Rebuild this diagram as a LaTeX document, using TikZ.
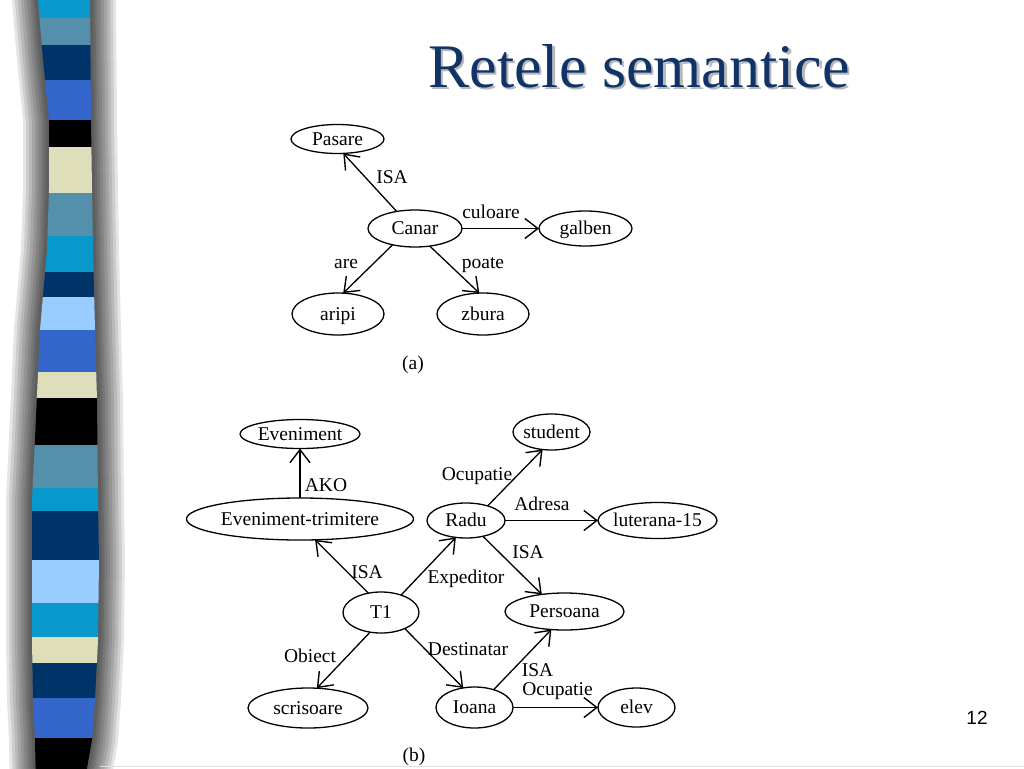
\documentclass[tikz,border=0pt]{standalone}
\usepackage{fontspec}
\setmainfont{Liberation Serif}
\newfontfamily\sansf{Liberation Sans}
\usetikzlibrary{arrows.meta,shapes.geometric}
\definecolor{cyanb}{RGB}{8,152,204}
\definecolor{steelb}{RGB}{84,144,172}
\definecolor{navyb}{RGB}{0,52,104}
\definecolor{royalb}{RGB}{52,102,204}
\definecolor{creamb}{RGB}{222,222,186}
\definecolor{lightb}{RGB}{153,204,255}
\definecolor{titleblue}{RGB}{16,52,104}
\newcommand\zt[1]{\makebox[0pt]{#1}}
\begin{document}
\begin{tikzpicture}[x=1pt,y=-1pt,
  ell/.style={ellipse,draw,line width=1.3pt,inner sep=0pt,outer sep=0pt,
    font=\fontsize{19.5}{19.5}\selectfont,text height=13pt,text depth=1pt},
  lab/.style={inner sep=0pt,anchor=base,font=\fontsize{19.5}{19.5}\selectfont},
  rel/.style={line width=1.3pt,-{Straight Barb[length=13pt,width=20pt,line width=1.4pt]}}]
\useasboundingbox (0,0) rectangle (1024,768);
\fill[white] (0,0) rectangle (1024,768);
% shadow of the stripe
\foreach \w in {52,46,40,34,28,22,16,11,6}{
  \draw[line width=\w pt, black, opacity=0.1, line join=round]
  (38,-20) -- (38,0) -- (43,60) -- (49,120) -- (49,190) -- (47,250) -- (40,330) -- (37,395) -- (34,460) -- (32,500) -- (32,560) -- (32,640) -- (33,700) -- (35,740) -- (36,790)
  -- (87,790) -- (87,768) -- (92,740) -- (95,700) -- (98,640) -- (99,560) -- (98,500) -- (97,400) -- (95,330) -- (93,250) -- (92,190) -- (91,120) -- (90,0) -- (90,-20) -- cycle;
}
% stripe
\begin{scope}
\clip (38,-20) -- (38,0) -- (43,60) -- (49,120) -- (49,190) -- (47,250) -- (40,330) -- (37,395) -- (34,460) -- (32,500) -- (32,560) -- (32,640) -- (33,700) -- (35,740) -- (36,790)
  -- (87,790) -- (87,768) -- (92,740) -- (95,700) -- (98,640) -- (99,560) -- (98,500) -- (97,400) -- (95,330) -- (93,250) -- (92,190) -- (91,120) -- (90,0) -- (90,-20) -- cycle;
\foreach \a/\b/\c in {-20/18/cyanb,18/45/steelb,45/80/navyb,80/120/royalb,120/147/black,
  147/193/creamb,193/236/steelb,236/272/cyanb,272/297/navyb,297/330/lightb,330/372/royalb,
  372/398/creamb,398/445/black,445/488/steelb,488/511/cyanb,511/560/navyb,560/603/lightb,
  603/637/cyanb,637/663/creamb,663/698/navyb,698/738/royalb,738/790/black}{
  \fill[\c] (20,\a) rectangle (110,\b);
}
\end{scope}
\draw[black!12, line width=1pt] (100,766.5) -- (1024,766.5);
% title
\node[anchor=base, inner sep=0pt, font=\fontsize{62}{62}\selectfont, text=black!28] (titleshadow) at (641.5,89.5) {Retele semantice};
\node[anchor=base, inner sep=0pt, font=\fontsize{62}{62}\selectfont, text=titleblue] (title) at (639,87) {Retele semantice};
\node[anchor=base, inner sep=0pt, font=\sansf\fontsize{19}{19}\selectfont] (pnum) at (977,724) {12};
% (a)
\node[ell,minimum width=93pt,minimum height=29pt] (pasare) at (337.5,139) {\zt{Pasare}};
\node[ell,minimum width=94pt,minimum height=37pt] (canar) at (415,228.5) {\zt{Canar}};
\node[ell,minimum width=93pt,minimum height=35pt] (galben) at (585.5,228.5) {\zt{galben}};
\node[ell,minimum width=92pt,minimum height=42pt] (aripi) at (338,314) {\zt{aripi}};
\node[ell,minimum width=92pt,minimum height=42pt] (zbura) at (483,314) {\zt{zbura}};
\draw[rel] (canar.137) -- (pasare.-68);
\draw[rel] (canar.east) -- (galben.west);
\draw[rel] (canar.-144) -- (aripi.76);
\draw[rel] (canar.-50) -- (zbura.100);
\node[lab] (la1) at (392,183) {ISA};
\node[lab] (la2) at (491,218) {culoare};
\node[lab] (la3) at (346,268) {are};
\node[lab] (la4) at (483,268) {poate};
\node[lab] (capa) at (413,369) {(a)};
% (b)
\node[ell,minimum width=120pt,minimum height=29pt] (even) at (300,434) {\zt{Eveniment}};
\node[ell,minimum width=227pt,minimum height=42pt] (evtr) at (300,519) {\zt{Eveniment-trimitere}};
\node[ell,minimum width=78pt,minimum height=35pt] (radu) at (466,520.5) {\zt{Radu}};
\node[ell,minimum width=77pt,minimum height=36pt] (student) at (551.5,432) {\zt{student}};
\node[ell,minimum width=119pt,minimum height=36pt] (luterana) at (657.5,520.5) {\zt{luterana-15}};
\node[ell,minimum width=76pt,minimum height=41pt] (t1) at (381,612.5) {\zt{T1}};
\node[ell,minimum width=119pt,minimum height=37pt] (persoana) at (564.5,611.5) {\zt{Persoana}};
\node[ell,minimum width=120pt,minimum height=40pt] (scris) at (308,708) {\zt{scrisoare}};
\node[ell,minimum width=77pt,minimum height=41pt] (ioana) at (474.5,707.5) {\zt{Ioana}};
\node[ell,minimum width=77pt,minimum height=39pt] (elev) at (636.5,707.5) {\zt{elev}};
\draw[rel] (evtr.north) -- (even.south);
\draw[rel] (t1.123) -- (evtr.-54);
\draw[rel] (t1.41) -- (radu.-121);
\draw[rel] (radu.34) -- (student.-117);
\draw[rel] (radu.east) -- (luterana.west);
\draw[rel] (radu.-43) -- (persoana.143);
\draw[rel] (t1.-119) -- (scris.66);
\draw[rel] (t1.-34) -- (ioana.120);
\draw[rel] (ioana.43) -- (persoana.-126);
\draw[rel] (ioana.east) -- (elev.west);
\node[lab] (lb1) at (326,491) {AKO};
\node[lab] (lb2) at (367,578) {ISA};
\node[lab] (lb3) at (466,583) {Expeditor};
\node[lab] (lb4) at (477,480) {Ocupatie};
\node[lab] (lb5) at (542,510) {Adresa};
\node[lab] (lb6) at (528,558) {ISA};
\node[lab] (lb7) at (310,662) {Obiect};
\node[lab] (lb8) at (468,655) {Destinatar};
\node[lab] (lb9) at (537.5,676) {ISA};
\node[lab] (lb10) at (557.5,695) {Ocupatie};
\node[lab] (capb) at (414,761) {(b)};
\end{tikzpicture}
\end{document}
